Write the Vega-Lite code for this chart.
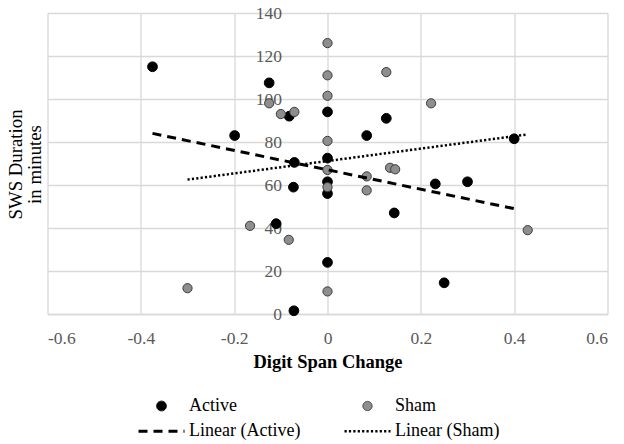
{
  "$schema": "https://vega.github.io/schema/vega-lite/v6.json",
  "width": 560,
  "height": 301,
  "autosize": {"type": "none"},
  "padding": {"left": 47.5, "top": 13, "right": 16.5, "bottom": 130},
  "background": "white",
  "config": {
    "view": {"stroke": null},
    "font": "Liberation Serif",
    "axis": {
      "grid": true,
      "gridColor": "#d9d9d9",
      "gridWidth": 1.3,
      "ticks": false,
      "labelFont": "Liberation Serif",
      "labelFontSize": 17.5,
      "labelColor": "#595959",
      "titleFont": "Liberation Serif"
    },
    "legend": {
      "orient": "none",
      "direction": "horizontal",
      "legendX": 89.5,
      "legendY": 384,
      "columns": 2,
      "columnPadding": 42,
      "rowPadding": 7.3,
      "clipHeight": 18,
      "labelFont": "Liberation Serif",
      "labelFontSize": 18,
      "labelColor": "#000000",
      "labelOffset": 3,
      "padding": 0,
      "title": null
    }
  },
  "datasets": {
    "pts": [
      {"x": -0.375, "y": 115, "series": "Active"},
      {"x": -0.125, "y": 107.5, "series": "Active"},
      {"x": -0.082, "y": 92, "series": "Active"},
      {"x": -0.199, "y": 83, "series": "Active"},
      {"x": 0, "y": 94, "series": "Active"},
      {"x": -0.071, "y": 70.5, "series": "Active"},
      {"x": 0, "y": 72.5, "series": "Active"},
      {"x": 0.084, "y": 83, "series": "Active"},
      {"x": 0.126, "y": 91, "series": "Active"},
      {"x": 0.4, "y": 81.5, "series": "Active"},
      {"x": -0.073, "y": 59, "series": "Active"},
      {"x": 0, "y": 61.5, "series": "Active"},
      {"x": 0, "y": 56, "series": "Active"},
      {"x": -0.11, "y": 42, "series": "Active"},
      {"x": 0, "y": 24, "series": "Active"},
      {"x": -0.072, "y": 1.5, "series": "Active"},
      {"x": 0.143, "y": 47, "series": "Active"},
      {"x": 0.231, "y": 60.5, "series": "Active"},
      {"x": 0.3, "y": 61.5, "series": "Active"},
      {"x": 0.25, "y": 14.5, "series": "Active"},
      {"x": 0, "y": 126, "series": "Sham"},
      {"x": 0, "y": 111, "series": "Sham"},
      {"x": 0, "y": 101.5, "series": "Sham"},
      {"x": -0.125, "y": 98, "series": "Sham"},
      {"x": -0.1, "y": 93, "series": "Sham"},
      {"x": -0.071, "y": 94, "series": "Sham"},
      {"x": 0, "y": 80.5, "series": "Sham"},
      {"x": 0.126, "y": 112.5, "series": "Sham"},
      {"x": 0.222, "y": 98, "series": "Sham"},
      {"x": 0, "y": 67, "series": "Sham"},
      {"x": 0, "y": 59, "series": "Sham"},
      {"x": 0.084, "y": 64, "series": "Sham"},
      {"x": 0.084, "y": 57.5, "series": "Sham"},
      {"x": 0.134, "y": 68, "series": "Sham"},
      {"x": 0.145, "y": 67.3, "series": "Sham"},
      {"x": -0.166, "y": 41, "series": "Sham"},
      {"x": -0.083, "y": 34.5, "series": "Sham"},
      {"x": -0.3, "y": 12, "series": "Sham"},
      {"x": 0, "y": 10.5, "series": "Sham"},
      {"x": 0.429, "y": 39, "series": "Sham"}
    ],
    "trend": [
      {"x": -0.375, "y": 84, "series": "Linear (Active)"},
      {"x": 0.4, "y": 49, "series": "Linear (Active)"},
      {"x": -0.3, "y": 62.5, "series": "Linear (Sham)"},
      {"x": 0.428, "y": 83.5, "series": "Linear (Sham)"}
    ]
  },
  "encoding": {
    "x": {
      "field": "x",
      "type": "quantitative",
      "scale": {"domain": [-0.6, 0.6], "nice": false, "zero": false},
      "axis": {
        "values": [-0.6, -0.4, -0.2, 0, 0.2, 0.4, 0.6],
        "labelExpr": "(datum.value < 0 ? '-' : '') + format(abs(datum.value), '~g')",
        "domainColor": "#d9d9d9",
        "domainWidth": 1.3,
        "labelPadding": 15,
        "title": "Digit Span Change",
        "titleFontSize": 18.5,
        "titleFontWeight": "bold",
        "titleColor": "#000000",
        "titlePadding": 6
      }
    },
    "y": {
      "field": "y",
      "type": "quantitative",
      "scale": {"domain": [0, 140], "nice": false},
      "axis": {
        "values": [0, 20, 40, 60, 80, 100, 120, 140],
        "offset": -280,
        "domain": false,
        "labelPadding": 46,
        "labelFontSize": 17.5,
        "title": ["SWS Duration", "in minutes"],
        "titleFontSize": 18.8,
        "titleFontWeight": "normal",
        "titleColor": "#000000",
        "titleAngle": -90,
        "titleAlign": "center",
        "titleBaseline": "middle",
        "titleLineHeight": 19,
        "titleX": -312,
        "titleY": 151
      }
    }
  },
  "layer": [
    {
      "data": {"name": "pts"},
      "mark": {"type": "point", "filled": true, "opacity": 1},
      "encoding": {
        "fill": {
          "field": "series", "type": "nominal",
          "scale": {"domain": ["Active", "Sham", "Linear (Active)", "Linear (Sham)"], "range": ["#000000", "#8e8e8e", "transparent", "transparent"]}
        },
        "stroke": {
          "field": "series", "type": "nominal",
          "scale": {"domain": ["Active", "Sham", "Linear (Active)", "Linear (Sham)"], "range": ["#000000", "#3c3c3c", "#000000", "#000000"]}
        },
        "shape": {
          "field": "series", "type": "nominal",
          "scale": {"domain": ["Active", "Sham", "Linear (Active)", "Linear (Sham)"], "range": ["circle", "circle", "stroke", "stroke"]}
        },
        "size": {
          "field": "series", "type": "ordinal",
          "scale": {"type": "ordinal", "domain": ["Active", "Sham", "Linear (Active)", "Linear (Sham)"], "range": [95, 85, 2116, 2116]}
        },
        "strokeWidth": {
          "field": "series", "type": "ordinal",
          "scale": {"type": "ordinal", "domain": ["Active", "Sham", "Linear (Active)", "Linear (Sham)"], "range": [1, 1, 3, 2.5]}
        }
      }
    },
    {
      "data": {"name": "trend"},
      "mark": {"type": "line", "strokeCap": "butt"},
      "encoding": {
        "detail": {"field": "series"},
        "stroke": {
          "field": "series", "type": "nominal",
          "scale": {"domain": ["Active", "Sham", "Linear (Active)", "Linear (Sham)"], "range": ["#000000", "#3c3c3c", "#000000", "#000000"]}
        },
        "strokeDash": {
          "field": "series", "type": "nominal",
          "scale": {"domain": ["Active", "Sham", "Linear (Active)", "Linear (Sham)"], "range": [[1, 0], [1, 0], [9, 6], [2.2, 2.2]]}
        },
        "strokeWidth": {
          "field": "series", "type": "ordinal",
          "scale": {"type": "ordinal", "domain": ["Active", "Sham", "Linear (Active)", "Linear (Sham)"], "range": [1, 1, 3, 2.5]}
        }
      }
    }
  ]
}
